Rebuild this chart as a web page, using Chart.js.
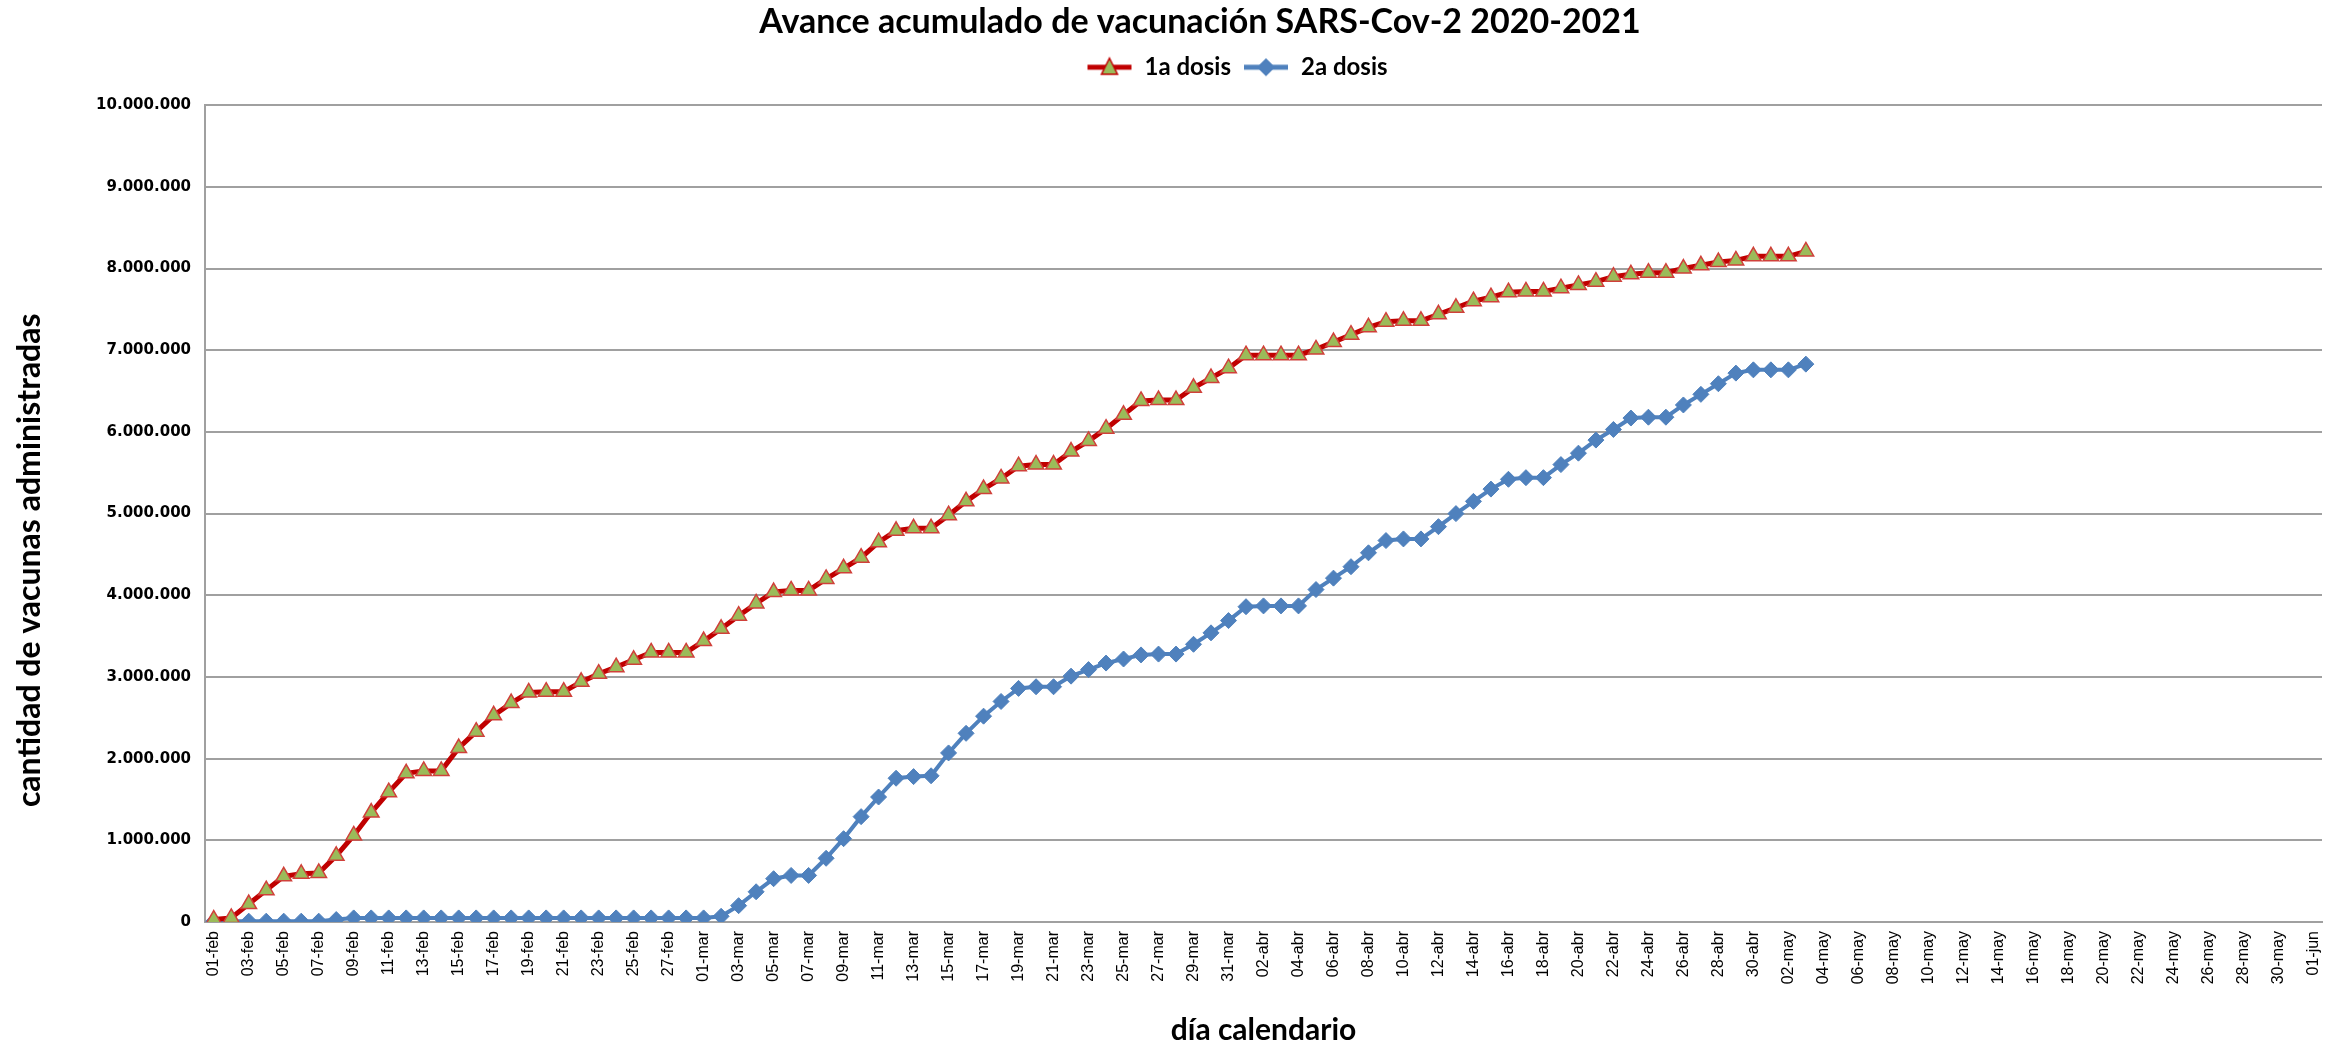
<!DOCTYPE html>
<html>
<head>
<meta charset="utf-8">
<script src="https://cdn.jsdelivr.net/npm/chart.js@4"></script>
<style>
  html, body { margin: 0; padding: 0; background: #fff; }
  #wrap { width: 2348px; height: 1044px; }
</style>
</head>
<body>
<div id="wrap"><canvas id="grafico"></canvas></div>
<script>
// meses del eje (nombre, dias mostrados)
const meses = [['feb', 28], ['mar', 31], ['abr', 30], ['may', 31], ['jun', 1]];

// dosis acumuladas, 01-feb a 03-may
const dosis1 = [
  30000, 50000, 220000, 390000, 560000, 590000, 600000, 810000, 1060000, 1340000,
  1590000, 1820000, 1850000, 1850000, 2130000, 2330000, 2530000, 2680000, 2810000, 2820000,
  2820000, 2940000, 3040000, 3120000, 3210000, 3300000, 3300000, 3300000, 3440000, 3590000,
  3750000, 3900000, 4040000, 4060000, 4060000, 4200000, 4330000, 4460000, 4650000, 4790000,
  4820000, 4820000, 4980000, 5150000, 5300000, 5430000, 5580000, 5600000, 5600000, 5760000,
  5890000, 6040000, 6210000, 6380000, 6390000, 6390000, 6540000, 6660000, 6780000, 6940000,
  6940000, 6940000, 6940000, 7010000, 7100000, 7190000, 7280000, 7350000, 7360000, 7360000,
  7440000, 7520000, 7600000, 7650000, 7710000, 7720000, 7720000, 7760000, 7800000, 7840000,
  7900000, 7930000, 7950000, 7950000, 8000000, 8040000, 8080000, 8100000, 8150000, 8150000,
  8150000, 8210000
];
const dosis2 = [
  10000, 10000, 10000, 10000, 10000, 10000, 10000, 30000, 50000, 50000,
  50000, 50000, 50000, 50000, 50000, 50000, 50000, 50000, 50000, 50000,
  50000, 50000, 50000, 50000, 50000, 50000, 50000, 50000, 50000, 70000,
  200000, 370000, 530000, 570000, 570000, 780000, 1020000, 1290000, 1530000, 1760000,
  1780000, 1790000, 2070000, 2310000, 2520000, 2700000, 2860000, 2880000, 2880000, 3010000,
  3090000, 3170000, 3220000, 3270000, 3280000, 3280000, 3400000, 3540000, 3690000, 3860000,
  3870000, 3870000, 3870000, 4070000, 4210000, 4350000, 4520000, 4670000, 4690000, 4690000,
  4840000, 5000000, 5150000, 5300000, 5420000, 5440000, 5440000, 5600000, 5740000, 5900000,
  6030000, 6170000, 6180000, 6180000, 6330000, 6460000, 6590000, 6720000, 6760000, 6760000,
  6760000, 6830000
];

const rojo = '#C00000';
const verde = '#9BBB59';
const azul = '#4F81BD';
const letra = 'Lato';

const dias = [];
meses.forEach(([m, n]) => {
  for (let d = 1; d <= n; d++) dias.push(String(d).padStart(2, '0') + '-' + m);
});

// iconos de la leyenda: linea con marcador
function icono(color, relleno, forma) {
  const c = document.createElement('canvas');
  c.width = 46; c.height = 24;
  const g = c.getContext('2d');
  g.strokeStyle = color; g.lineWidth = 5;
  g.beginPath(); g.moveTo(1, 12); g.lineTo(45, 12); g.stroke();
  g.fillStyle = relleno; g.strokeStyle = color; g.lineWidth = 1.5;
  g.beginPath();
  if (forma === 'tri') {
    g.moveTo(23, 3); g.lineTo(31, 19); g.lineTo(15, 19);
  } else {
    g.moveTo(23, 4); g.lineTo(31, 12); g.lineTo(23, 20); g.lineTo(15, 12);
  }
  g.closePath(); g.fill(); g.stroke();
  return c;
}
const iconos = [icono(rojo, verde, 'tri'), icono(azul, azul, 'rom')];

// leyenda mas alta y titulo/leyenda algo a la derecha, como en el original
const ajusteCabecera = {
  id: 'ajusteCabecera',
  beforeUpdate(chart) {
    const lg = chart.legend;
    if (lg && !lg._parche) {
      const fit = lg.fit;
      lg.fit = function () { fit.call(this); this.height = 70; };
      lg._parche = true;
    }
  },
  afterLayout(chart) {
    const t = chart.titleBlock, lg = chart.legend;
    t.left += 39; t.right += 39;
    lg.left += 76; lg.right += 76;
    lg.top += 8; lg.bottom += 8;
  }
};

new Chart(document.getElementById('grafico'), {
  type: 'line',
  data: {
    labels: dias,
    datasets: [{
      label: '1a dosis',
      data: dosis1,
      borderColor: rojo,
      borderWidth: 5,
      pointStyle: 'triangle',
      pointRadius: 9,
      pointBackgroundColor: verde,
      pointBorderColor: '#D0403A',
      pointBorderWidth: 1.5,
      tension: 0
    },
    {
      label: '2a dosis',
      data: dosis2,
      borderColor: azul,
      borderWidth: 4,
      pointStyle: 'rectRot',
      pointRadius: 8,
      pointBackgroundColor: azul,
      pointBorderColor: azul,
      pointBorderWidth: 1,
      tension: 0
    }]
  },
  plugins: [ajusteCabecera],
  options: {
    responsive: true,
    maintainAspectRatio: false,
    animation: false,
    layout: { padding: { left: 0, right: 26, top: 0, bottom: 0 } },
    plugins: {
      title: {
        display: true,
        text: 'Avance acumulado de vacunación SARS-Cov-2 2020-2021',
        color: '#000',
        font: { family: letra, size: 34, weight: 'bold', lineHeight: 0.8 },
        padding: { top: 8, bottom: 0 }
      },
      legend: {
        labels: {
          usePointStyle: true,
          pointStyleWidth: 46,
          padding: 12,
          color: '#000',
          font: { family: letra, size: 24, weight: 'bold' },
          generateLabels: (chart) => chart.data.datasets.map((ds, i) => ({
            text: ds.label,
            pointStyle: iconos[i],
            datasetIndex: i,
            hidden: false,
            lineWidth: 0,
            fontColor: '#000'
          }))
        }
      },
      tooltip: { enabled: false }
    },
    scales: {
      x: {
        offset: true,
        grid: { display: false, drawTicks: false },
        border: { display: true, color: '#a0a0a0', width: 2 },
        ticks: {
          autoSkip: false,
          maxRotation: 90,
          minRotation: 90,
          padding: 9,
          color: '#000',
          font: { family: 'Liberation Sans', size: 16 },
          callback: function (v, i) { return i % 2 === 0 ? this.getLabelForValue(v) : ''; }
        },
        title: {
          display: true,
          text: 'día calendario',
          color: '#000',
          font: { family: letra, size: 30, weight: 'bold', lineHeight: 0.8 },
          padding: { top: 0, bottom: 2 }
        },
        afterFit: (s) => { s.height = 122; }
      },
      y: {
        min: 0,
        max: 10000000,
        grid: { color: '#a0a0a0', lineWidth: 2, drawTicks: false },
        border: { display: true, color: '#a0a0a0', width: 2 },
        ticks: {
          stepSize: 1000000,
          padding: 14,
          color: '#000',
          font: { family: 'DejaVu Sans', size: 15, weight: 'bold' },
          callback: (v) => v.toLocaleString('de-DE')
        },
        title: {
          display: true,
          // espacios finales: baja el texto como en el original
          text: 'cantidad de vacunas administradas            ',
          color: '#000',
          font: { family: letra, size: 32, weight: 'bold', lineHeight: 1 },
          padding: { top: 14, bottom: 0 }
        },
        afterFit: (s) => { s.width = 205; }
      }
    }
  }
});
</script>
</body>
</html>
